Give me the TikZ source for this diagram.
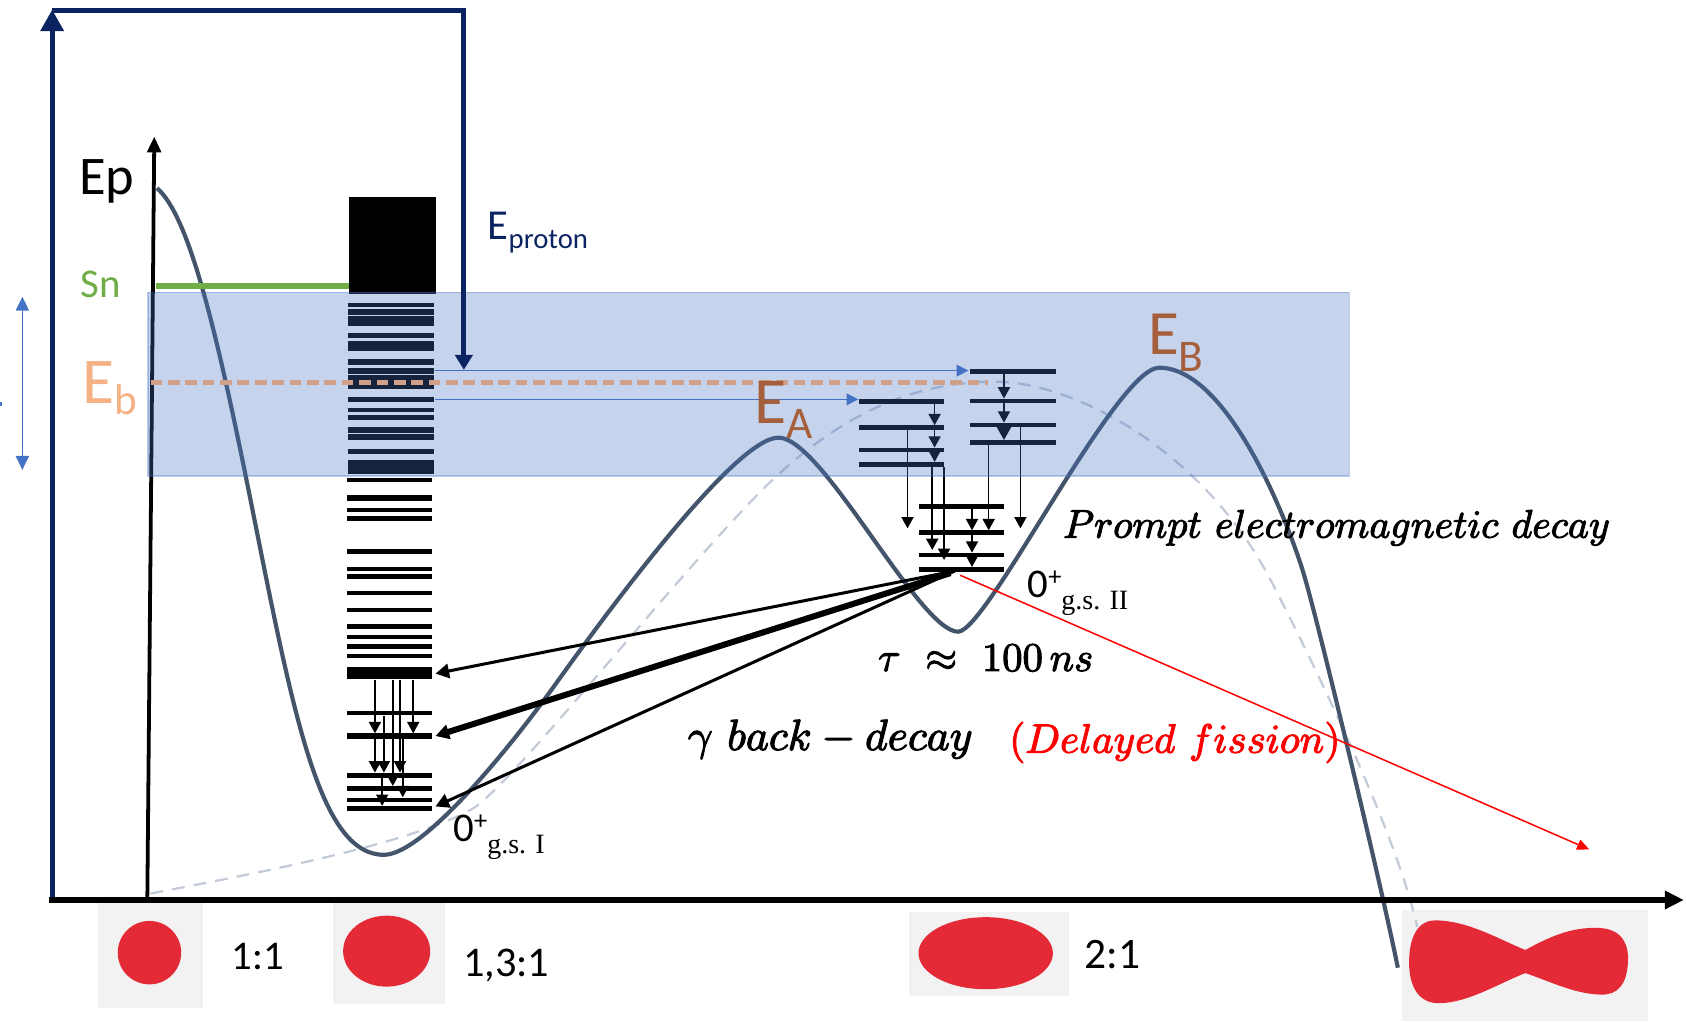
\documentclass[tikz,border=0pt]{standalone}
\usepackage{fontspec}
\setsansfont{Carlito}
\newfontfamily\timesfont{Liberation Serif}
\usepackage{graphicx}
\usetikzlibrary{arrows.meta}

\definecolor{navy}{HTML}{0B2461}
\definecolor{slate}{HTML}{44546A}
\definecolor{ghost}{HTML}{C3CBD9}
\definecolor{bandblue}{HTML}{4472C4}
\definecolor{sngreen}{HTML}{70AD47}
\definecolor{ebpeach}{HTML}{F4B183}
\definecolor{barrierbrown}{HTML}{A65F3C}
\definecolor{saddle}{HTML}{CFA18B}
\definecolor{shapered}{HTML}{E42A37}
\definecolor{boxgray}{HTML}{F2F2F2}

% one horizontal level bar: x-from, x-to, y-centre, thickness
\newcommand{\lvlbar}[4]{\fill (#1,{#3-#4/2}) rectangle (#2,{#3+#4/2});}
\newcommand{\setfs}[1]{\fontsize{#1}{#1}\selectfont}
% slightly heavier glyphs (fill + thin outline stroke)
\newcommand{\heavy}[1]{\special{pdf:literal direct 2 Tr 0.25 w}#1\special{pdf:literal direct 0 Tr}}

\begin{document}
\begin{tikzpicture}[x=0.1mm,y=-0.1mm,
  decay/.style={-{Triangle[length=3pt,width=3.2pt]}, line width=0.4pt},
  bigdecay/.style={-{Triangle[length=4pt,width=4.4pt]}, line width=0.4pt},
  backdecay/.style={-{Triangle[length=3.6pt,width=3.8pt]}, line width=0.8pt},
  feed/.style={bandblue, line width=0.4pt, -{Triangle[length=3.1pt,width=3.1pt]}},
  lbl/.style={inner sep=0pt, anchor=base west},
  shapebox/.style={fill=boxgray},
]
\useasboundingbox (0,0) rectangle (1568,950);

% ---------- deformation shapes under the axis ----------
\fill[shapebox] (91,840) rectangle (189,937);
\fill[shapered] (139,886) circle [radius=29.5];
\fill[shapebox] (310,840) rectangle (414,934);
\fill[shapered] (359.6,884.6) ellipse [x radius=40.5, y radius=33];
\fill[shapebox] (845,848) rectangle (994,926);
\fill[shapered] (916.7,886.5) ellipse [x radius=62.5, y radius=33.5];
\fill[shapebox] (1304,846) rectangle (1533,950);
\fill[shapered] (1418.5,883.5) .. controls (1440,872) and (1460,862) .. (1487,863)
  .. controls (1510,864) and (1515,880) .. (1514,895)
  .. controls (1513,915) and (1505,925) .. (1490,925)
  .. controls (1465,925) and (1440,912) .. (1418.5,905)
  .. controls (1395,914) and (1365,933) .. (1338,933)
  .. controls (1316,933) and (1310,912) .. (1310.5,893)
  .. controls (1311,872) and (1318,856) .. (1335,856)
  .. controls (1365,856) and (1395,874) .. cycle;

% ---------- potential energy curves ----------
% one-humped (liquid-drop) barrier
\draw[ghost, line width=0.6pt, dash pattern=on 3.4pt off 2.4pt]
  (140,831) .. controls (240,812) and (380,785) .. (438,753)
  .. controls (475,733) and (640,520) .. (722,443)
  .. controls (785,385) and (850,355) .. (925,355)
  .. controls (1000,355) and (1120,420) .. (1182,540)
  .. controls (1230,633) and (1300,780) .. (1318,862);
% double-humped barrier
\draw[slate, line width=1.1pt]
  (146,175) .. controls (175,200) and (200,300) .. (233,465)
  .. controls (273,665) and (297,795) .. (357,795)
  .. controls (395,795) and (479,688.6) .. (515,638.6)
  .. controls (565,568.6) and (684,407) .. (724,407)
  .. controls (765,407) and (855,587.5) .. (891,587.5)
  .. controls (918,587.5) and (1038,342) .. (1078,342)
  .. controls (1145,342) and (1203,499) .. (1214,539)
  .. controls (1231,599) and (1286,830) .. (1300,900);

% ---------- energy axis ----------
\coordinate (epfoot) at (137,837);
\coordinate (eptop) at (143.5,127);
\draw[line width=1pt, -{Triangle[length=4.2pt,width=3.6pt]}] (epfoot) -- (eptop);

% ---------- first-well level scheme ----------
\fill (324.6,183.5) rectangle (405.7,273);
\foreach \y/\t in {283.6/4, 290.3/5, 298.6/9, 311.9/5, 321.8/9, 336.8/5, 345.1/5, 353.4/9,
  360/4, 371.7/5, 381.6/4, 388.3/5, 399.9/5, 406.5/5, 419.8/5, 431.4/7, 438.1/5}
  {\lvlbar{323.5}{404}{\y}{\t}}
\foreach \y/\t in {446.4/4, 463/6, 474.6/4, 482.2/4, 513/4, 529.5/4, 536.3/4, 551.8/4,
  567.3/4, 582.8/4, 592.7/4, 601.4/4, 609.8/4, 626.2/11, 663.4/4, 684.5/5, 721/4.5,
  733.5/4.5, 744/4.5, 751.8/4.5}
  {\lvlbar{323}{402}{\y}{\t}}
\draw[decay] (348.7,632) -- (348.7,682);
\draw[decay] (384.3,632) -- (384.3,682);
\draw[decay] (348.7,687) -- (348.7,718.5);
\draw[decay] (357,666) -- (357,718.5);
\draw[decay] (372,632) -- (372,718.5);
\draw[decay] (365.3,632) -- (365.3,731);
\draw[decay] (374.6,687) -- (374.6,741.5);
\draw[decay] (355.4,723) -- (355.4,749.5);

% ---------- second-well level schemes ----------
\foreach \y in {373.6, 397.7, 418.5, 431.8} {\lvlbar{799}{878}{\y}{4.3}}
\foreach \y in {345.7, 372.9, 395.3, 411.4} {\lvlbar{902}{982}{\y}{4.3}}
\foreach \y in {471.2, 495.4, 516.2, 529.5} {\lvlbar{854.7}{933.7}{\y}{4.3}}
\draw[decay] (869.2,375.8) -- (869.2,395.5);
\draw[decay] (869.2,399.9) -- (869.2,416.3);
\draw[decay] (869.2,420.7) -- (869.2,429.6);
\draw[decay] (933.7,347.9) -- (933.7,370.7);
\draw[decay] (933.7,375.1) -- (933.7,393.1);
\draw[bigdecay] (933.7,397.5) -- (933.7,409.2);
\draw[decay] (844,399.9) -- (844,491.4);
\draw[decay] (867,434) -- (867,511.5);
\draw[decay] (878,434) -- (878,520.8);
\draw[decay] (919.5,413.6) -- (919.5,493.2);
\draw[decay] (949,397.5) -- (949,491.4);
\draw[decay] (904,473.4) -- (904,493.2);
\draw[decay] (904,497.6) -- (904,514);
\draw[decay] (904,518.4) -- (904,527.3);

% ---------- excitation band ----------
\fill[bandblue, fill opacity=0.31] (137.8,272) rectangle (1255,443);
\draw[bandblue, draw opacity=0.35, line width=0.5pt] (137.8,272) rectangle (1255,443);

% ---------- thresholds and feeding ----------
\coordinate (snL) at (145,266);
\coordinate (snR) at (325,266);
\draw[sngreen, line width=1.4pt] (snL) -- (snR);
\coordinate (ebL) at (140,355.5);
\coordinate (ebR) at (919,355.5);
\draw[saddle, line width=1.3pt, dash pattern=on 3.1pt off 1.5pt] (ebL) -- (ebR);
\coordinate (feedB0) at (405,344.7);
\coordinate (feedB1) at (900.6,344.7);
\coordinate (feedA0) at (405,371.4);
\coordinate (feedA1) at (798.3,371.4);
\draw[feed] (feedB0) -- (feedB1);
\draw[feed] (feedA0) -- (feedA1);
\coordinate (rangeTop) at (20.8,276);
\coordinate (rangeBot) at (20.8,437);
\draw[bandblue, line width=0.45pt, {Triangle[length=3.7pt,width=3.5pt]}-{Triangle[length=3.7pt,width=3.5pt]}] (rangeTop) -- (rangeBot);
\draw[bandblue, line width=1pt] (0,375.7) -- (2.2,375.7);

% ---------- beam energy frame ----------
\coordinate (navyFoot) at (48.5,838);
\coordinate (navyTop) at (48.5,9);
\coordinate (navyCorner) at (48.5,10);
\coordinate (protonCorner) at (431.4,10);
\coordinate (protonTip) at (431.4,344);
\draw[navy, line width=1.3pt, -{Triangle[length=5.7pt,width=6pt]}] (navyFoot) -- (navyTop);
\draw[navy, line width=1.3pt, -{Triangle[length=4pt,width=4.6pt]}] (navyCorner) -- (protonCorner) -- (protonTip);

% ---------- deformation axis ----------
\coordinate (axL) at (46,837);
\coordinate (axR) at (1566,837);
\draw[line width=1.4pt, -{Triangle[length=5pt,width=4.6pt]}] (axL) -- (axR);

% ---------- gamma back-decay and delayed fission ----------
\coordinate (gsII) at (888,531);
\coordinate (gsIIb) at (884,533);
\coordinate (lvlOne) at (405,626.5);
\coordinate (lvlTwo) at (405,684.5);
\coordinate (lvlThree) at (405,750);
\draw[backdecay] (gsII) -- (lvlOne);
\draw[backdecay, line width=1.6pt] (gsIIb) -- (lvlTwo);
\draw[backdecay] (gsII) -- (lvlThree);
\coordinate (fisStart) at (893,535);
\coordinate (fisEnd) at (1478,790);
\draw[red, line width=0.4pt, -{Triangle[length=3.2pt,width=2.8pt]}] (fisStart) -- (fisEnd);

% ---------- labels ----------
\node[lbl] (epLabel) at (73,181) {\sffamily\setfs{14.4}Ep};
\node[lbl, text=sngreen] (snLabel) at (74,277) {\sffamily\setfs{10.8}Sn};
\node[lbl, text=ebpeach] (ebLabel) at (76,375) {\sffamily\setfs{17.3}E\raisebox{-3.1pt}{\setfs{11.4}b}};
\node[lbl, text=navy] (protonLabel) at (453,223) {\sffamily\setfs{11.3}E\raisebox{-2.2pt}{\setfs{7.6}proton}};
\node[lbl, text=barrierbrown] (eaLabel) at (701,393.7) {\sffamily\setfs{17.4}E\raisebox{-4pt}{\setfs{12}A}};
\node[lbl, text=barrierbrown] (ebbLabel) at (1067,330) {\sffamily\setfs{16.7}E\raisebox{-4.5pt}{\setfs{12}B}};
\node[lbl] (gsTwoLabel) at (955,556) {\sffamily\setfs{10.8}0\raisebox{3.3pt}{\setfs{7}+}\raisebox{-3.1pt}{\timesfont\setfs{7.4}g.s. II}};
\node[lbl] (gsOneLabel) at (421,782.7) {\sffamily\setfs{10.8}0\raisebox{3.3pt}{\setfs{7}+}\raisebox{-3.1pt}{\timesfont\setfs{7.4}g.s. I}};
\node[lbl] (promptLabel) at (988,500) {\heavy{\resizebox{144.8pt}{!}{$Prompt\ electromagnetic\ decay$}}};
\node[lbl] (tauLabel) at (816,624) {\heavy{\resizebox{56.9pt}{!}{$\tau\ \approx\ 100\,ns$}}};
\node[lbl] (backLabel) at (639,697.5) {\heavy{\resizebox{75.4pt}{!}{$\gamma\ back - decay$}}};
\node[lbl, text=red] (fissionLabel) at (938,700) {\heavy{\resizebox{87.6pt}{!}{$(Delayed\ fission)$}}};
\node[lbl] (ratioOne) at (215,902) {\sffamily\setfs{10.8}1:1};
\node[lbl] (ratioTwo) at (430,908) {\sffamily\setfs{11.2}1,3:1};
\node[lbl] (ratioThree) at (1008,901) {\sffamily\setfs{11.5}2:1};
\end{tikzpicture}
\end{document}
